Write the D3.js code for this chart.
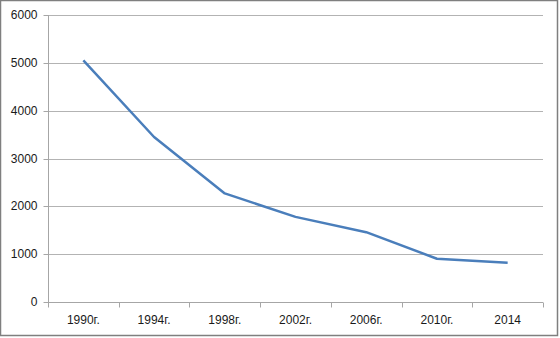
<!DOCTYPE html>
<html>
<head>
<meta charset="utf-8">
<script src="https://d3js.org/d3.v7.min.js"></script>
<style>
  body { margin: 0; background: #fff; }
  svg { display: block; }
  .tick text { font-family: "Liberation Sans", Arial, sans-serif; font-size: 12px; fill: #1a1a1a; }
</style>
</head>
<body>
<div id="main_plot"></div>
<script>
// data
var years = ["1990г.", "1994г.", "1998г.", "2002г.", "2006г.", "2010г.", "2014"];
var values = [5050, 3450, 2270, 1780, 1460, 905, 822];
var yTicks = [0, 1000, 2000, 3000, 4000, 5000, 6000];

var W = 560, H = 338;
var margin = {top: 15, right: 17, bottom: 36, left: 48},
    width = W - margin.left - margin.right,
    height = H - margin.top - margin.bottom;

var root = d3.select("#main_plot").append("svg")
    .attr("width", W)
    .attr("height", H);

// outer frame
root.append("rect")
    .attr("x", 0.5).attr("y", 0.5)
    .attr("width", W - 3).attr("height", H - 3)
    .attr("fill", "#fff")
    .attr("stroke", "#7f7f7f")
    .attr("stroke-width", 1.5);

var svg = root.append("g")
    .attr("transform", "translate(" + margin.left + "," + margin.top + ")");

var x = d3.scaleBand()
    .domain(years)
    .range([0, width]);

var y = d3.scaleLinear()
    .domain([0, 6000])
    .range([height, 0]);

// horizontal gridlines
svg.append("g")
    .selectAll("line")
    .data(yTicks.slice(1))
    .join("line")
      .attr("x1", 0).attr("x2", width)
      .attr("y1", function(d) { return Math.round(y(d)) + 0.5; })
      .attr("y2", function(d) { return Math.round(y(d)) + 0.5; })
      .attr("stroke", "#b3b3b3")
      .attr("stroke-width", 1);

// y axis
var yAxis = svg.append("g")
    .attr("transform", "translate(0.5,0)")
    .call(d3.axisLeft(y).tickValues(yTicks).tickSize(5).tickPadding(6).tickFormat(d3.format("d")));
yAxis.selectAll("line, path").attr("stroke", "#a6a6a6");
yAxis.select(".domain").attr("d", "M0," + height + "V0");
yAxis.selectAll(".tick").attr("transform", function(d) { return "translate(0," + (Math.round(y(d)) + 0.5) + ")"; });

// x axis with ticks between categories
var xAxis = svg.append("g")
    .attr("transform", "translate(0," + (Math.round(height) + 0.5) + ")")
    .call(d3.axisBottom(x).tickSize(0).tickPadding(13));
xAxis.select(".domain").attr("stroke", "#a6a6a6").attr("d", "M0,0H" + width);
xAxis.selectAll(".tick text").attr("dy", "0.71em");

var bounds = years.map(function(d) { return x(d); }).concat([width]);
xAxis.selectAll(".sep")
    .data(bounds)
    .join("line")
      .attr("class", "sep")
      .attr("x1", function(d) { return Math.round(d) + 0.5; })
      .attr("x2", function(d) { return Math.round(d) + 0.5; })
      .attr("y1", 0).attr("y2", 5)
      .attr("stroke", "#a6a6a6");

// the line
svg.append("path")
    .datum(values)
    .attr("fill", "none")
    .attr("stroke", "#4a7ebb")
    .attr("stroke-width", 2.5)
    .attr("stroke-linejoin", "round")
    .attr("d", d3.line()
      .x(function(d, i) { return x(years[i]) + x.bandwidth() / 2; })
      .y(function(d) { return y(d); })
    );
</script>
</body>
</html>
